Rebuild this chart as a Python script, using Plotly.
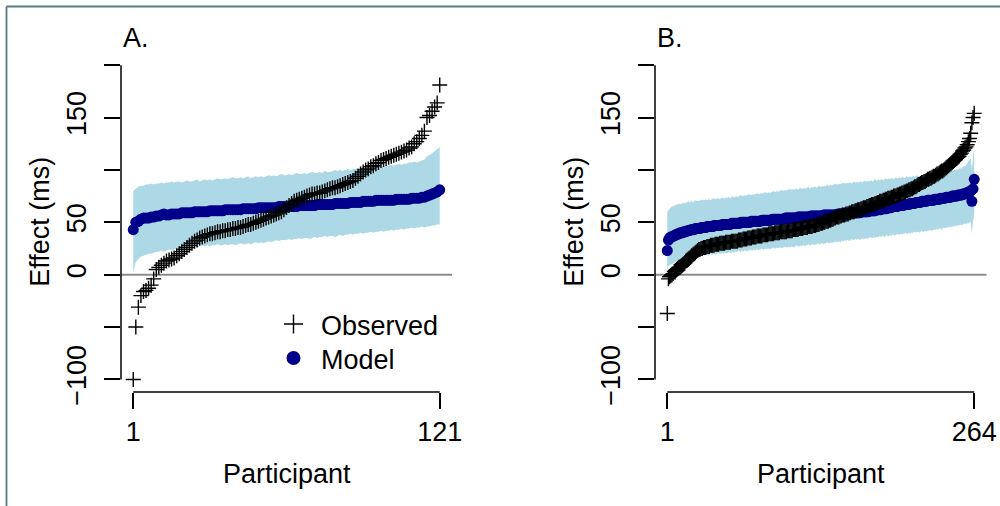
import plotly.graph_objects as go

# ---------------- Panel A (121 participants) ----------------
participants_A = list(range(1, 122))
observed_A = [
    -100, -50, -31, -20, -16, -15, -13, -10, -4, 5,
    7, 9, 11, 13, 14, 15, 16, 18, 20, 22,
    24, 26, 28, 30, 32, 33, 35, 36, 37, 38,
    39, 39, 40, 41, 41, 42, 42, 43, 43, 44,
    44, 45, 45, 46, 47, 48, 48, 49, 50, 51,
    52, 53, 54, 55, 56, 57, 58, 59, 60, 62,
    64, 66, 68, 70, 71, 72, 73, 74, 75, 76,
    77, 77, 78, 78, 79, 80, 81, 82, 83, 83,
    84, 85, 86, 87, 88, 89, 90, 92, 94, 96,
    98, 100, 101, 103, 104, 106, 107, 109, 110, 111,
    112, 113, 114, 115, 116, 117, 118, 119, 121, 122,
    125, 127, 130, 133, 137, 150, 152, 156, 160, 164,
    181]
model_A = [
    43, 50, 51, 53, 54, 54, 54, 55, 55, 56, 56, 57, 58, 57, 57, 58, 58, 58, 58, 59,
    59, 59, 59, 59, 60, 60, 60, 60, 60, 60, 61, 61, 61, 61, 61, 61, 62, 62, 62, 62,
    62, 62, 62, 63, 63, 63, 63, 63, 63, 64, 64, 64, 64, 64, 64, 64, 64, 65, 65, 65,
    65, 65, 65, 65, 65, 66, 66, 66, 66, 66, 66, 66, 67, 67, 67, 67, 67, 67, 67, 68,
    68, 68, 68, 68, 68, 69, 69, 69, 69, 69, 70, 70, 70, 70, 70, 71, 71, 71, 71, 71,
    71, 71, 71, 72, 72, 72, 72, 72, 72, 73, 73, 73, 73, 74, 74, 75, 76, 77, 78, 79,
    81]
upper_A = [
    80, 82, 84, 85, 85, 86, 86, 87, 86, 87,
    87, 88, 87, 88, 88, 89, 88, 89, 89, 88,
    89, 90, 89, 89, 90, 91, 89, 90, 91, 90,
    91, 90, 91, 92, 91, 91, 92, 91, 92, 93,
    92, 92, 93, 92, 93, 94, 92, 93, 94, 93,
    94, 93, 94, 95, 94, 95, 94, 95, 96, 95,
    95, 96, 95, 96, 97, 96, 96, 97, 96, 97,
    98, 97, 97, 98, 97, 99, 98, 98, 99, 100,
    99, 100, 99, 100, 101, 100, 101, 101, 102, 101,
    102, 101, 103, 102, 103, 102, 104, 103, 104, 104,
    104, 105, 104, 105, 106, 105, 106, 106, 107, 107,
    108, 107, 108, 109, 110, 113, 114, 116, 118, 120,
    122]
lower_A = [
    2, 12, 15, 17, 18, 19, 20, 20, 21, 22,
    22, 23, 22, 23, 24, 23, 24, 25, 24, 25,
    26, 25, 26, 26, 27, 26, 27, 28, 27, 28,
    27, 28, 28, 29, 28, 28, 29, 28, 29, 29,
    28, 29, 30, 29, 29, 30, 29, 30, 31, 30,
    31, 30, 31, 32, 31, 32, 33, 32, 33, 33,
    33, 34, 33, 34, 34, 35, 34, 35, 35, 34,
    35, 36, 35, 36, 36, 37, 36, 37, 37, 36,
    37, 38, 37, 38, 38, 39, 38, 39, 39, 40,
    39, 40, 40, 41, 40, 41, 41, 42, 41, 42,
    42, 43, 42, 43, 43, 44, 43, 44, 44, 45,
    44, 45, 45, 46, 45, 46, 46, 47, 47, 48,
    48]

# ---------------- Panel B (264 participants) ----------------
participants_B = list(range(1, 265))
observed_B = [
    -37, -4, -2, -1, 0, 1, 3, 4, 5, 6,
    7, 7, 8, 9, 10, 11, 13, 14, 15, 16,
    17, 18, 19, 20, 21, 22, 23, 24, 24, 25,
    25, 26, 26, 26, 27, 27, 27, 28, 28, 28,
    28, 29, 29, 29, 29, 30, 30, 30, 30, 30,
    31, 31, 31, 31, 31, 32, 32, 32, 32, 32,
    32, 33, 33, 33, 33, 34, 34, 34, 34, 35,
    35, 35, 35, 36, 36, 36, 36, 37, 37, 37,
    37, 37, 38, 38, 38, 38, 38, 39, 39, 39,
    39, 39, 40, 40, 40, 40, 40, 41, 41, 41,
    41, 41, 41, 42, 42, 42, 42, 42, 43, 43,
    43, 43, 43, 44, 44, 44, 44, 45, 45, 45,
    45, 46, 46, 46, 46, 47, 47, 47, 48, 48,
    48, 49, 49, 49, 50, 50, 51, 51, 51, 52,
    52, 53, 53, 54, 54, 55, 55, 55, 56, 56,
    57, 57, 57, 58, 58, 58, 59, 59, 60, 60,
    60, 61, 61, 62, 62, 62, 63, 63, 64, 64,
    64, 65, 65, 66, 66, 67, 67, 67, 68, 68,
    69, 69, 70, 70, 70, 71, 71, 72, 72, 73,
    73, 73, 74, 74, 75, 75, 75, 76, 76, 77,
    77, 78, 78, 79, 79, 80, 80, 81, 81, 82,
    82, 83, 84, 84, 85, 86, 86, 87, 88, 88,
    89, 89, 90, 91, 91, 92, 92, 93, 94, 94,
    95, 96, 96, 97, 98, 99, 99, 100, 101, 102,
    103, 104, 105, 106, 107, 108, 109, 110, 111, 112,
    113, 115, 116, 118, 119, 121, 122, 124, 127, 130,
    135, 145, 150, 154]
model_B = [
    23, 33, 35, 36, 36, 37, 37, 38, 38, 39,
    39, 40, 40, 40, 41, 41, 41, 42, 42, 42,
    43, 43, 43, 43, 44, 44, 44, 44, 44, 45,
    45, 45, 45, 45, 46, 46, 46, 46, 46, 46,
    47, 47, 47, 47, 47, 47, 47, 48, 48, 48,
    48, 48, 48, 48, 48, 49, 49, 49, 49, 49,
    49, 49, 49, 50, 50, 50, 50, 50, 50, 50,
    50, 50, 51, 51, 51, 51, 51, 51, 51, 51,
    51, 52, 52, 52, 52, 52, 52, 52, 52, 52,
    53, 53, 53, 53, 53, 53, 53, 53, 53, 53,
    53, 54, 54, 54, 54, 54, 54, 54, 54, 54,
    54, 54, 55, 55, 55, 55, 55, 55, 55, 55,
    55, 55, 55, 56, 56, 56, 56, 56, 56, 56,
    56, 56, 56, 56, 57, 57, 57, 57, 57, 57,
    57, 57, 57, 57, 57, 57, 58, 58, 58, 58,
    58, 58, 58, 58, 58, 58, 58, 59, 59, 59,
    59, 59, 59, 59, 59, 59, 60, 60, 60, 60,
    60, 60, 60, 61, 61, 61, 61, 61, 61, 62,
    62, 62, 62, 62, 63, 63, 63, 63, 63, 64,
    64, 64, 64, 65, 65, 65, 65, 65, 66, 66,
    66, 66, 66, 67, 67, 67, 67, 67, 68, 68,
    68, 68, 68, 69, 69, 69, 69, 69, 70, 70,
    70, 70, 70, 71, 71, 71, 71, 71, 71, 72,
    72, 72, 72, 72, 73, 73, 73, 73, 73, 74,
    74, 74, 74, 74, 75, 75, 75, 75, 75, 76,
    76, 76, 76, 77, 77, 77, 78, 78, 79, 79,
    80, 70, 82, 91]
upper_B = [
    60, 62, 63, 64, 65, 65, 66, 66, 67, 67,
    68, 67, 68, 68, 69, 68, 69, 69, 70, 69,
    70, 70, 69, 70, 71, 70, 71, 70, 71, 71,
    72, 71, 71, 72, 71, 72, 72, 71, 72, 73,
    72, 73, 72, 73, 73, 72, 73, 74, 73, 73,
    74, 73, 74, 74, 73, 74, 75, 74, 74, 75,
    74, 75, 75, 76, 75, 75, 76, 75, 76, 76,
    77, 76, 76, 77, 76, 77, 77, 78, 77, 77,
    78, 77, 78, 78, 79, 78, 78, 79, 78, 79,
    79, 80, 79, 79, 80, 79, 80, 80, 81, 80,
    80, 81, 80, 81, 81, 82, 81, 81, 82, 81,
    82, 82, 81, 82, 83, 82, 82, 83, 82, 83,
    83, 84, 82, 83, 84, 83, 84, 84, 83, 84,
    85, 84, 84, 85, 84, 85, 85, 86, 85, 85,
    86, 85, 86, 86, 87, 86, 86, 87, 86, 87,
    87, 88, 87, 87, 88, 87, 88, 88, 87, 88,
    89, 88, 88, 89, 88, 89, 89, 88, 89, 90,
    89, 89, 90, 89, 90, 90, 89, 90, 91, 90,
    90, 91, 90, 91, 91, 90, 91, 92, 91, 91,
    92, 91, 92, 92, 91, 92, 93, 92, 92, 93,
    92, 93, 93, 92, 93, 94, 93, 93, 94, 93,
    94, 94, 93, 94, 95, 94, 94, 95, 94, 95,
    95, 94, 95, 96, 95, 96, 96, 95, 96, 97,
    96, 97, 97, 96, 97, 98, 97, 98, 98, 97,
    98, 99, 98, 99, 100, 99, 100, 100, 101, 100,
    101, 102, 101, 103, 104, 103, 105, 106, 108, 110,
    111, 100, 113, 122]
lower_B = [
    4, 8, 9, 10, 10, 11, 11, 12, 12, 13,
    13, 13, 14, 14, 14, 15, 14, 15, 16, 15,
    16, 16, 17, 16, 17, 17, 18, 17, 18, 18,
    18, 19, 18, 19, 19, 18, 19, 20, 19, 19,
    20, 19, 20, 20, 21, 20, 20, 21, 20, 21,
    21, 20, 21, 22, 21, 21, 22, 21, 22, 22,
    22, 23, 22, 22, 23, 22, 23, 23, 22, 23,
    23, 24, 23, 23, 24, 23, 24, 24, 23, 24,
    24, 25, 24, 24, 25, 24, 25, 25, 24, 25,
    25, 26, 25, 25, 26, 25, 26, 26, 25, 26,
    26, 27, 26, 26, 27, 26, 27, 27, 26, 27,
    27, 28, 27, 27, 28, 27, 28, 28, 27, 28,
    28, 29, 28, 28, 29, 29, 28, 29, 29, 30,
    29, 29, 30, 30, 29, 30, 30, 31, 30, 30,
    31, 30, 31, 31, 32, 31, 31, 32, 31, 32,
    32, 32, 33, 32, 33, 33, 32, 33, 34, 33,
    33, 34, 33, 34, 34, 33, 34, 35, 34, 34,
    35, 34, 35, 35, 36, 35, 35, 36, 35, 36,
    36, 36, 37, 36, 37, 37, 36, 37, 38, 37,
    37, 38, 37, 38, 38, 37, 38, 39, 38, 38,
    39, 38, 39, 39, 40, 39, 39, 40, 39, 40,
    40, 40, 41, 40, 41, 41, 40, 41, 42, 41,
    41, 42, 41, 42, 42, 43, 42, 42, 43, 43,
    43, 44, 43, 44, 44, 43, 44, 45, 44, 45,
    45, 45, 46, 45, 46, 46, 47, 46, 47, 47,
    47, 48, 47, 48, 48, 49, 48, 49, 49, 50,
    50, 39, 51, 58]

y_tickvals = [-100, -50, 0, 50, 100, 150, 200]
y_ticktext = ["\u2212100", "", "0", "50", "", "150", ""]
panel_labels = ["A.", "B."]
legend_labels = ["Observed", "Model"]

# ---------------- styling ----------------
FONT = "Liberation Sans, Arial, Helvetica, sans-serif"
FS = 27
BAND = "#ADD8E6"
NAVY = "#00008B"
W, H = 1000, 506
y_dom = [1 - 392 / H, 1 - 52.6 / H]
xA_dom = [121 / W, 452 / W]
xB_dom = [655 / W, 986.5 / W]

fig = go.Figure()

def add_panel(xs, obs, mod, up, lo, xa, ya):
    fig.add_trace(go.Scatter(
        x=xs + xs[::-1], y=up + lo[::-1], mode="lines", fill="toself",
        fillcolor=BAND, line=dict(width=0, color=BAND), hoverinfo="skip",
        showlegend=False, xaxis=xa, yaxis=ya))
    fig.add_trace(go.Scatter(
        x=xs, y=mod, mode="markers",
        marker=dict(symbol="circle", size=11, color=NAVY, line=dict(width=0)),
        showlegend=False, xaxis=xa, yaxis=ya))
    fig.add_trace(go.Scatter(
        x=xs, y=obs, mode="markers",
        marker=dict(symbol="cross-thin", size=10.7, color="black",
                    line=dict(width=1.4, color="black")),
        showlegend=False, xaxis=xa, yaxis=ya))

add_panel(participants_A, observed_A, model_A, upper_A, lower_A, "x", "y")
add_panel(participants_B, observed_B, model_B, upper_B, lower_B, "x2", "y2")

# legend-only entries (larger symbols, as in the reference legend)
fig.add_trace(go.Scatter(
    x=[None], y=[None], mode="markers", name=legend_labels[0], legend="legend",
    marker=dict(symbol="cross-thin", size=13.6, color="black",
                line=dict(width=1.4, color="black")), xaxis="x", yaxis="y"))
fig.add_trace(go.Scatter(
    x=[None], y=[None], mode="markers", name=legend_labels[1], legend="legend2",
    marker=dict(symbol="circle", size=14, color=NAVY, line=dict(width=0)),
    xaxis="x", yaxis="y"))

def xaxis_cfg(dom, n):
    pad = 0.04 * (n - 1)
    return dict(domain=dom, range=[1 - pad, n + pad], tickvals=[1, n],
                ticktext=[str(1), str(n)], ticks="outside", ticklen=16,
                tickwidth=1.5, tickcolor="black", showline=False,
                showgrid=False, zeroline=False, automargin=False,
                tickfont=dict(family=FONT, size=FS, color="black"))

def yaxis_cfg(anchor):
    return dict(domain=y_dom, range=[-112, 212], tickvals=y_tickvals,
                ticktext=y_ticktext, tickangle=-90, ticks="outside",
                ticklen=16, tickwidth=1.5, tickcolor="black", showline=False,
                showgrid=False, zeroline=False, anchor=anchor,
                automargin=False, ticklabelstandoff=7,
                tickfont=dict(family=FONT, size=FS, color="black"))

def legend_cfg(ytop):
    return dict(x=266 / W, y=1 - ytop / H, xanchor="left", yanchor="top",
                bgcolor="rgba(0,0,0,0)", borderwidth=0, itemwidth=45,
                font=dict(family=FONT, size=FS, color="black"))

fig.update_layout(
    width=W, height=H, margin=dict(l=0, r=0, t=0, b=0, autoexpand=False),
    paper_bgcolor="white", plot_bgcolor="white",
    font=dict(family=FONT, size=FS, color="black"),
    xaxis=dict(xaxis_cfg(xA_dom, 121), anchor="y"),
    yaxis=yaxis_cfg("x"),
    xaxis2=dict(xaxis_cfg(xB_dom, 264), anchor="y2"),
    yaxis2=yaxis_cfg("x2"),
    showlegend=True,
    legend=legend_cfg(300),
    legend2=legend_cfg(334),
)

shapes = []
annotations = []
for xr, yr, n, lab, dom in [("x", "y", 121, panel_labels[0], xA_dom),
                            ("x2", "y2", 264, panel_labels[1], xB_dom)]:
    # zero reference line
    shapes.append(dict(type="line", xref=xr + " domain", yref=yr, x0=0, x1=1,
                       y0=0, y1=0, layer="below",
                       line=dict(color="#8c8c8c", width=2)))
    # y axis line from -100 to 200
    shapes.append(dict(type="line", xref=xr + " domain", yref=yr, x0=0, x1=0,
                       y0=y_tickvals[0], y1=y_tickvals[-1],
                       line=dict(color="black", width=1.5)))
    # x axis line from 1 to n
    shapes.append(dict(type="line", xref=xr, yref=yr + " domain", x0=1, x1=n,
                       y0=0, y1=0, line=dict(color="black", width=1.5)))
    annotations.append(dict(text=lab, xref=xr + " domain", x=0, xanchor="left",
                            yref="paper", y=1 - 37.5 / H, yanchor="middle",
                            showarrow=False, font=dict(family=FONT, size=FS)))
    annotations.append(dict(text="Participant", xref=xr + " domain", x=0.5,
                            xanchor="center", yref="paper", y=1 - 474 / H,
                            yanchor="middle", showarrow=False,
                            font=dict(family=FONT, size=FS)))
    annotations.append(dict(text="Effect (ms)", xref="paper",
                            x=(dom[0] * W - 80.5) / W, xanchor="center",
                            yref=yr + " domain", y=0.5, yanchor="middle",
                            textangle=-90, showarrow=False,
                            font=dict(family=FONT, size=FS)))

# outer frame (top and left edges visible)
FRAME = "#557a7e"
shapes.append(dict(type="line", xref="paper", yref="paper", x0=6.5 / W, x1=1,
                   y0=1 - 6.5 / H, y1=1 - 6.5 / H, line=dict(color=FRAME, width=1.8)))
shapes.append(dict(type="line", xref="paper", yref="paper", x0=6.5 / W, x1=6.5 / W,
                   y0=0, y1=1 - 6.5 / H, line=dict(color=FRAME, width=1.8)))

fig.update_layout(shapes=shapes, annotations=annotations)
fig.write_html("out.html",
               config={"displayModeBar": False},
               post_script="document.body.style.margin='0px';")
